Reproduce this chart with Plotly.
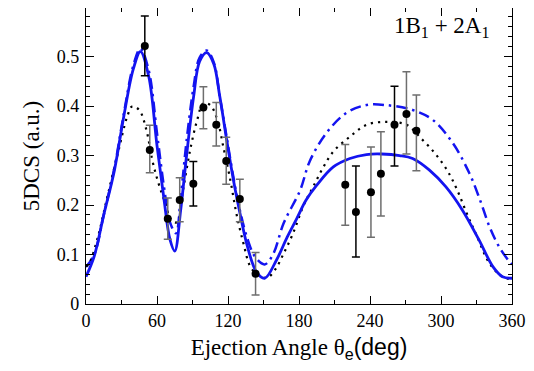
import plotly.graph_objects as go

# ---- Experimental data ----
theta_exp = [49.7, 53.9, 69.1, 79.2, 90.7, 99.2, 110.1, 118.5, 130.0, 143.3,
             219.1, 228.1, 240.8, 249.2, 260.7, 270.8, 279.2]
dcs_exp = [0.521, 0.311, 0.172, 0.210, 0.243, 0.397, 0.362, 0.289, 0.212, 0.061,
           0.241, 0.186, 0.226, 0.263, 0.362, 0.384, 0.350]
err_up = [0.061, 0.050, 0.042, 0.045, 0.045, 0.042, 0.045, 0.048, 0.040, 0.043,
          0.081, 0.093, 0.091, 0.085, 0.078, 0.085, 0.072]
err_dn = [0.060, 0.046, 0.041, 0.044, 0.045, 0.043, 0.043, 0.047, 0.046, 0.043,
          0.082, 0.091, 0.091, 0.085, 0.083, 0.081, 0.081]
bar_dark = [True, False, False, False, True, False, False, False, False, False,
            False, True, False, False, True, False, False]

# ---- Theory curves ----
th_solid = [0, 7, 15, 24, 32, 40, 46, 53, 60, 66, 71, 75, 80, 85, 91, 96, 102, 108,
            113, 119, 125, 130, 136, 144, 151, 161, 170, 178, 186, 195, 209, 223,
            237, 250, 265, 276, 290, 304, 318, 332, 344, 352, 360]
y_solid = [0.055, 0.097, 0.180, 0.270, 0.380, 0.475, 0.510, 0.460, 0.320, 0.210,
           0.130, 0.107, 0.190, 0.300, 0.420, 0.490, 0.508, 0.485, 0.420, 0.330,
           0.245, 0.185, 0.120, 0.065, 0.052, 0.089, 0.135, 0.172, 0.210, 0.240,
           0.277, 0.294, 0.302, 0.303, 0.300, 0.294, 0.271, 0.237, 0.190, 0.130,
           0.075, 0.055, 0.052]

th_dashdot = [0, 7, 15, 24, 32, 40, 46, 53, 60, 66, 71, 76, 80, 85, 91, 96, 102, 108,
              113, 119, 125, 130, 136, 143, 151, 158, 167, 181, 189, 203, 220, 237,
              253, 276, 293, 310, 324, 333, 341, 349, 358, 360]
y_dashdot = [0.075, 0.100, 0.180, 0.275, 0.385, 0.482, 0.516, 0.472, 0.345, 0.235,
             0.165, 0.143, 0.215, 0.330, 0.440, 0.498, 0.512, 0.488, 0.420, 0.335,
             0.250, 0.190, 0.135, 0.095, 0.080, 0.100, 0.163, 0.230, 0.288, 0.345,
             0.386, 0.402, 0.402, 0.392, 0.372, 0.325, 0.264, 0.210, 0.156, 0.116,
             0.085, 0.080]

th_dot = [0, 2, 10, 18, 27, 35, 39, 45, 51, 56, 60.5, 66, 72, 77, 82, 88, 94, 99,
          105, 111, 116, 122, 127, 133, 139, 146, 153, 160, 167, 175, 184, 192, 200,
          209, 223, 237, 254, 271, 283, 295, 305, 313, 323, 330, 341, 352, 360]
y_dot = [0.077, 0.079, 0.135, 0.216, 0.305, 0.380, 0.399, 0.392, 0.352, 0.291,
         0.250, 0.210, 0.170, 0.165, 0.230, 0.311, 0.372, 0.405, 0.402, 0.372,
         0.318, 0.250, 0.184, 0.123, 0.075, 0.058, 0.053, 0.070, 0.102, 0.143,
         0.200, 0.237, 0.274, 0.308, 0.338, 0.362, 0.368, 0.362, 0.335, 0.304,
         0.271, 0.234, 0.176, 0.139, 0.082, 0.055, 0.050]

x_ticks = [0, 60, 120, 180, 240, 300, 360]
y_ticks = [0, 0.1, 0.2, 0.3, 0.4, 0.5]
y_ticklabels = ["0", "0.1", "0.2", "0.3", "0.4", "0.5"]

BLUE = "#1414f0"
SERIF = "Liberation Serif"
SANS = "Liberation Sans"

fig = go.Figure()
fig.add_trace(go.Scatter(x=th_dashdot, y=y_dashdot, mode="lines",
                         line=dict(color=BLUE, width=2.5, dash="11px,5px,2.5px,5px",
                                   shape="spline", smoothing=1.0),
                         showlegend=False, hoverinfo="skip"))
fig.add_trace(go.Scatter(x=th_dot, y=y_dot, mode="lines",
                         line=dict(color="black", width=2.2, dash="2.2px,5px",
                                   shape="spline", smoothing=1.0),
                         showlegend=False, hoverinfo="skip"))
fig.add_trace(go.Scatter(x=th_solid, y=y_solid, mode="lines",
                         line=dict(color=BLUE, width=2.8, shape="spline", smoothing=1.0),
                         showlegend=False, hoverinfo="skip"))

for dark in (False, True):
    idx = [i for i, d in enumerate(bar_dark) if d == dark]
    fig.add_trace(go.Scatter(
        x=[theta_exp[i] for i in idx], y=[dcs_exp[i] for i in idx],
        mode="markers",
        marker=dict(color="black", size=8),
        error_y=dict(type="data", symmetric=False,
                     array=[err_up[i] for i in idx],
                     arrayminus=[err_dn[i] for i in idx],
                     color="black" if dark else "#6e6e6e",
                     thickness=1.5, width=4),
        showlegend=False))

axis_common = dict(showline=True, linecolor="black", linewidth=1.2, mirror="allticks",
                   ticks="inside", tickcolor="black", showgrid=False, zeroline=False)

fig.update_xaxes(range=[0, 360], tickvals=x_ticks, ticklen=8, tickwidth=1.2,
                 tickfont=dict(family=SERIF, size=18, color="black"),
                 minor=dict(dtick=30, tick0=0, ticks="inside", ticklen=4,
                            tickcolor="black", tickwidth=1),
                 title=dict(text="Ejection Angle θ<sub><span style='font-family:Liberation Sans'>e</span></sub>"
                                 "<span style='font-family:Liberation Sans'>(deg)</span>",
                            font=dict(family=SERIF, size=23, color="black"), standoff=9),
                 **axis_common)
fig.update_yaxes(range=[0, 0.598], tickvals=y_ticks, ticktext=y_ticklabels,
                 ticklen=8, tickwidth=1.2, ticklabelstandoff=2,
                 tickfont=dict(family=SERIF, size=18, color="black"),
                 minor=dict(dtick=0.02, tick0=0, ticks="inside", ticklen=4,
                            tickcolor="black", tickwidth=1),
                 title=dict(text="5DCS (a.u.)", font=dict(family=SERIF, size=23, color="black"),
                            standoff=10),
                 **axis_common)

fig.add_annotation(x=0.952, y=0.935, xref="paper", yref="paper", xanchor="right",
                   yanchor="middle", showarrow=False,
                   text="1B<sub>1</sub> + 2A<sub>1</sub>",
                   font=dict(family=SERIF, size=23, color="black"))

# the page body adds an 8px offset, so the canvas is 8px smaller and margins shifted
fig.update_layout(width=526, height=363, margin=dict(l=78, r=22, t=0, b=67),
                  font=dict(family=SERIF, color="black"),
                  plot_bgcolor="white", paper_bgcolor="white")

fig.write_html("out.html")
